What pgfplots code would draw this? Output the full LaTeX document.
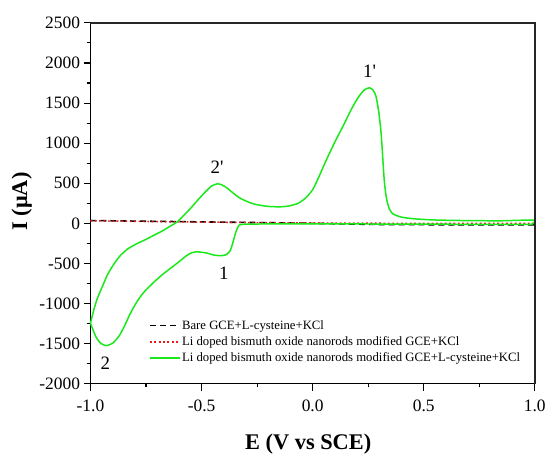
\documentclass[border=0pt]{standalone}
\usepackage{fontspec}
\setmainfont{Liberation Serif}
\usepackage{pgfplots}
\pgfplotsset{compat=1.18}
\definecolor{cvgreen}{RGB}{25,232,25}
\definecolor{cvred}{RGB}{240,25,25}
\begin{document}
\begin{tikzpicture}
\begin{axis}[
  name=ax,
  width=447pt, height=363pt, scale only axis,
  xmin=-1, xmax=1, ymin=-2000, ymax=2500,
  axis lines=box,
  xtick={-1,-0.5,0,0.5,1},
  ytick={-2000,-1500,-1000,-500,0,500,1000,1500,2000,2500},
  minor x tick num=1, minor y tick num=1,
  xtick pos=bottom, ytick pos=left,
  tick align=outside,
  major tick length=7pt, minor tick length=3.8pt,
  every tick/.style={black, line width=1.1pt},
  axis line style={black, line width=1.2pt},
  scaled y ticks=false, scaled x ticks=false,
  /pgf/number format/assume math mode=true,
  xticklabel style={yshift=-6pt, /pgf/number format/.cd, fixed, fixed zerofill, precision=1},
  yticklabel style={/pgf/number format/.cd, 1000 sep={}},
  tick label style={font=\fontsize{17.5}{20}\selectfont},
  xlabel={\textbf{E (V vs SCE)}},
  ylabel={\textbf{I (μA)}},
  every axis x label/.style={at={(axis description cs:0.49,0)}, anchor=center, yshift=-61pt, font=\fontsize{22.5}{26}\selectfont},
  every axis y label/.style={at={(axis description cs:0,0.505)}, anchor=center, xshift=-69pt, rotate=90, font=\fontsize{22.5}{26}\selectfont},
  legend style={at={(0.125,0.186)}, anchor=north west, draw=none, fill=none,
    font=\fontsize{12.8}{15}\selectfont, row sep=3pt,
    nodes={inner sep=1.5pt}},
  legend cell align=left,
  legend image code/.code={\draw[#1] plot coordinates {(0pt,0pt) (15pt,0pt) (30pt,0pt)};},
  clip=false,
]
\addplot[black, line width=1.6pt, dash pattern=on 6pt off 4pt] coordinates {
(-1,35) (-0.8,28) (-0.5,18) (-0.2,8) (0.1,-5) (0.3,-15) (0.6,-18) (1,-20)};
\addlegendentry{Bare GCE+L-cysteine+KCl}
\addplot[cvred, line width=1.5pt, dash pattern=on 1.8pt off 2.6pt] coordinates {
(-1,32) (-0.6,18) (-0.2,8) (0.2,2) (0.6,-1) (1,0)};
\addlegendentry{Li doped bismuth oxide nanorods modified GCE+KCl}
\addplot[cvgreen, line width=1.5pt, smooth, tension=0.4] coordinates {
(-1.00,-1245)
(-0.985,-1080)
(-0.969,-935)
(-0.945,-780)
(-0.924,-644)
(-0.895,-510)
(-0.864,-397)
(-0.83,-315)
(-0.79,-252)
(-0.75,-200)
(-0.715,-149)
(-0.68,-100)
(-0.65,-50)
(-0.61,17)
(-0.58,100)
(-0.55,185)
(-0.512,306)
(-0.48,400)
(-0.455,465)
(-0.43,492)
(-0.41,482)
(-0.385,440)
(-0.363,389)
(-0.33,320)
(-0.289,265)
(-0.25,232)
(-0.199,211)
(-0.15,206)
(-0.11,215)
(-0.065,250)
(-0.03,320)
(0.0,420)
(0.025,560)
(0.06,780)
(0.099,1008)
(0.14,1230)
(0.174,1421)
(0.205,1570)
(0.233,1665)
(0.256,1690)
(0.272,1660)
(0.285,1586)
(0.297,1400)
(0.308,1132)
(0.316,800)
(0.323,513)
(0.333,300)
(0.345,182)
(0.36,120)
(0.397,79)
(0.45,58)
(0.547,42)
(0.7,34)
(0.85,32)
(0.995,40)
(0.99,-8)
(0.95,-12)
(0.7,-12)
(0.5,-10)
(0.2,-8)
(0.0,-8)
(-0.2,-8)
(-0.3,-10)
(-0.33,-22)
(-0.342,-80)
(-0.35,-149)
(-0.36,-250)
(-0.372,-345)
(-0.39,-392)
(-0.417,-404)
(-0.45,-392)
(-0.477,-370)
(-0.521,-355)
(-0.545,-368)
(-0.566,-400)
(-0.611,-500)
(-0.67,-625)
(-0.715,-735)
(-0.76,-860)
(-0.79,-975)
(-0.82,-1120)
(-0.845,-1270)
(-0.87,-1400)
(-0.90,-1495)
(-0.93,-1525)
(-0.954,-1495)
(-0.976,-1412)
(-1.0,-1245)
};
\addlegendentry{Li doped bismuth oxide nanorods modified GCE+L-cysteine+KCl}
\node[font=\fontsize{19}{22}\selectfont] at (axis cs:0.256,1896) {1\textquotesingle};
\node[font=\fontsize{19}{22}\selectfont] at (axis cs:-0.43,697) {2\textquotesingle};
\node[font=\fontsize{19}{22}\selectfont] at (axis cs:-0.40,-626) {1};
\node[font=\fontsize{19}{22}\selectfont] at (axis cs:-0.933,-1743) {2};
\end{axis}
\draw[line width=1.6pt, black!85] (ax.north west) -- (ax.north east) -- (ax.south east);
\path (ax.south west) ++(-91pt,-68pt) coordinate (bbA);
\path (ax.north east) ++(12pt,23pt) coordinate (bbB);
\path[draw=none] (bbA) rectangle (bbB);
\end{tikzpicture}
\end{document}
